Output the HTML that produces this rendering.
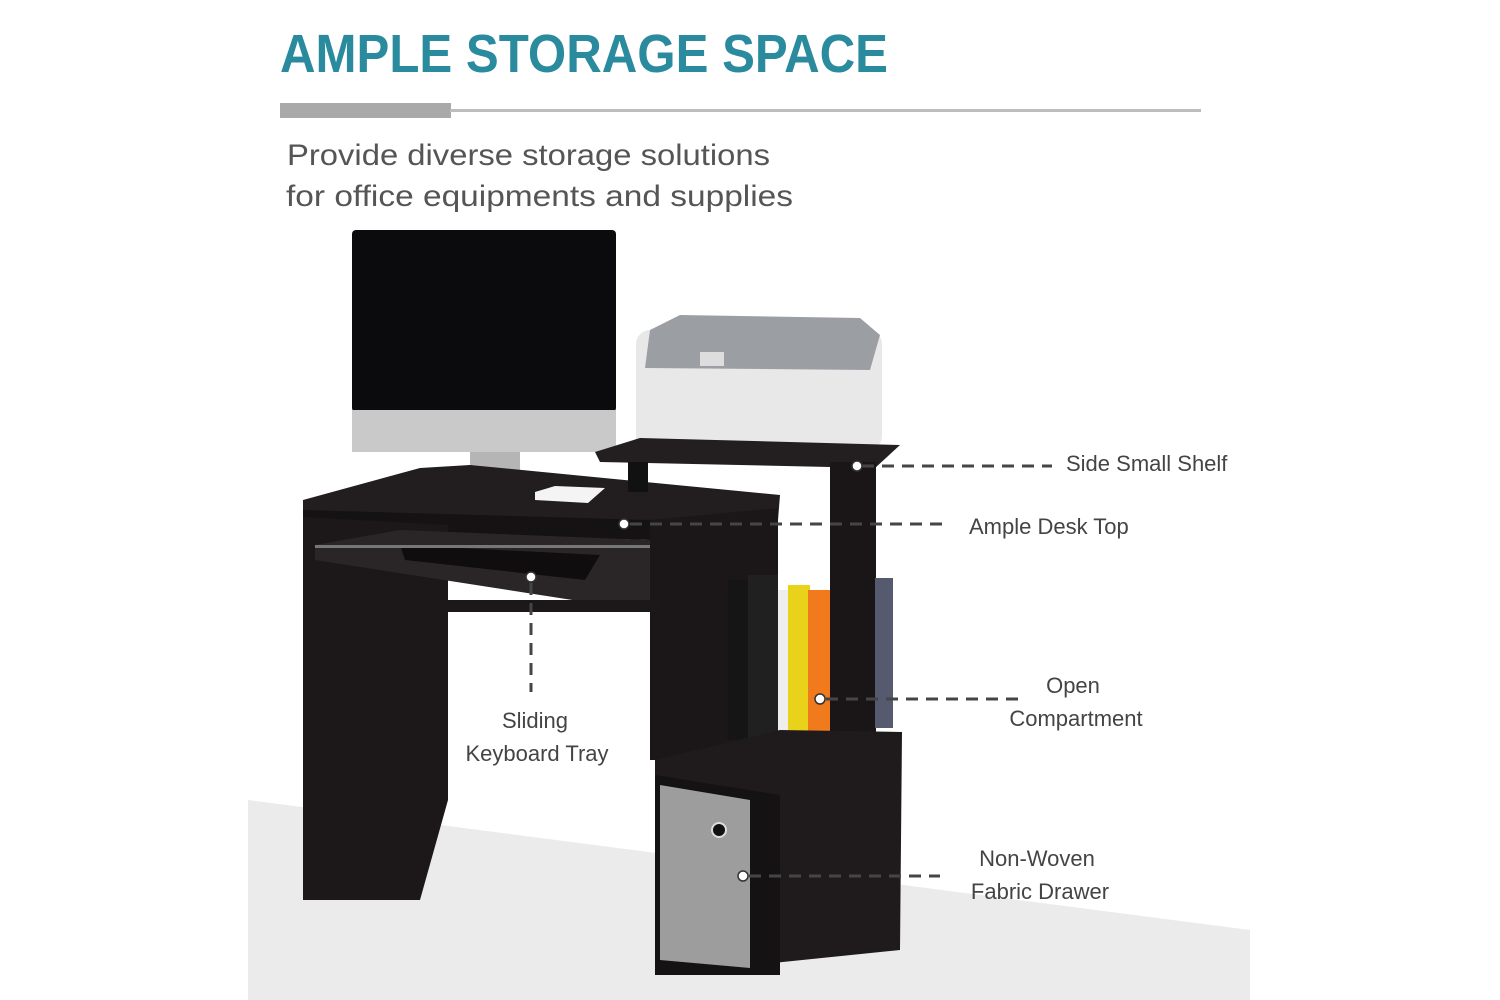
<!DOCTYPE html>
<html><head><style>
body{margin:0;background:#fff;}
svg{display:block;font-family:"Liberation Sans",sans-serif;}
</style></head><body>
<svg width="1500" height="1000" viewBox="0 0 1500 1000">
<rect width="1500" height="1000" fill="#fff"/>
<polygon points="248,800 1250,930 1250,1000 248,1000" fill="#ebebeb"/>
<text x="280" y="72" font-size="54" font-weight="bold" fill="#2a8a9e" textLength="608" lengthAdjust="spacingAndGlyphs">AMPLE STORAGE SPACE</text>
<rect x="280" y="103" width="171" height="15" fill="#a9a9a9"/>
<rect x="450" y="109" width="751" height="3" fill="#bdbdbd"/>
<text x="287" y="165" font-size="30" fill="#555" textLength="483" lengthAdjust="spacingAndGlyphs">Provide diverse storage solutions</text>
<text x="286" y="206" font-size="30" fill="#555" textLength="507" lengthAdjust="spacingAndGlyphs">for office equipments and supplies</text>
<!-- monitor -->
<rect x="352" y="230" width="264" height="182" rx="4" fill="#0b0b0d"/>
<rect x="352" y="410" width="264" height="42" fill="#c9c9c9"/>
<rect x="470" y="452" width="50" height="28" fill="#b5b5b5"/>
<ellipse cx="476" cy="484" rx="58" ry="9" fill="#d5d5d5"/>
<!-- desk top -->
<polygon points="303,500 420,468 470,465 780,495 778,520 650,525 303,517" fill="#221d1e"/>
<polygon points="303,510 650,520 650,540 303,530" fill="#151213"/>
<!-- right body of desk -->
<polygon points="650,520 778,508 778,760 650,760" fill="#1b1718"/>
<!-- left leg -->
<polygon points="303,517 448,525 448,800 420,900 303,900" fill="#1c1819"/>
<!-- keyboard tray -->
<polygon points="315,545 400,530 650,540 650,612 315,560" fill="#2a2627"/>
<polygon points="400,545 600,555 585,580 405,560" fill="#0f0d0e"/>
<rect x="315" y="545" width="335" height="3" fill="#777"/>
<rect x="448" y="600" width="210" height="12" fill="#1c1819"/>
<!-- paper -->
<polygon points="535,492 555,486 605,488 588,503 535,500" fill="#f4f4f4"/>
<!-- printer -->
<rect x="636" y="330" width="246" height="120" rx="14" fill="#e8e8e8"/>
<polygon points="650,330 680,315 860,318 880,335 870,370 645,368" fill="#9b9ea3"/>
<rect x="700" y="352" width="24" height="14" fill="#ddd"/>
<!-- side shelf -->
<polygon points="595,452 640,438 900,445 875,468 600,462" fill="#231e1f"/>
<rect x="628" y="462" width="20" height="30" fill="#111"/>
<rect x="830" y="462" width="46" height="300" fill="#1a1617"/>
<!-- books -->
<rect x="728" y="580" width="20" height="160" fill="#151515"/>
<rect x="748" y="575" width="30" height="165" fill="#202020"/>
<rect x="778" y="590" width="10" height="150" fill="#eee"/>
<rect x="788" y="585" width="22" height="155" fill="#e8d21a"/>
<rect x="808" y="590" width="22" height="155" fill="#f07a1c"/>
<rect x="875" y="578" width="18" height="150" fill="#555a6e"/>
<!-- lower cabinet -->
<polygon points="655,760 780,730 902,732 900,950 655,975" fill="#1f1b1c"/>
<polygon points="655,775 780,795 780,975 655,975" fill="#151213"/>
<polygon points="660,785 750,800 750,968 660,960" fill="#9d9d9d"/>
<circle cx="719" cy="830" r="7" fill="#111" stroke="#ddd" stroke-width="2"/>
<!-- callouts -->
<g stroke="#454545" stroke-width="3" stroke-dasharray="12,8" fill="none">
<line x1="862" y1="466" x2="1052" y2="466"/>
<line x1="630" y1="524" x2="950" y2="524"/>
<line x1="531" y1="583" x2="531" y2="692"/>
<line x1="826" y1="699" x2="1022" y2="699"/>
<line x1="749" y1="876" x2="940" y2="876"/>
</g>
<g fill="#fff" stroke="#333" stroke-width="1.5">
<circle cx="857" cy="466" r="5"/><circle cx="624" cy="524" r="5"/>
<circle cx="531" cy="577" r="5"/><circle cx="820" cy="699" r="5"/>
<circle cx="743" cy="876" r="5"/>
</g>
<g font-size="22" fill="#444">
<text x="1066" y="471">Side Small Shelf</text>
<text x="969" y="534">Ample Desk Top</text>
<text x="535" y="728" text-anchor="middle">Sliding</text>
<text x="537" y="761" text-anchor="middle">Keyboard Tray</text>
<text x="1073" y="693" text-anchor="middle">Open</text>
<text x="1076" y="726" text-anchor="middle">Compartment</text>
<text x="1037" y="866" text-anchor="middle">Non-Woven</text>
<text x="1040" y="899" text-anchor="middle">Fabric Drawer</text>
</g>
</svg>
</body></html>
